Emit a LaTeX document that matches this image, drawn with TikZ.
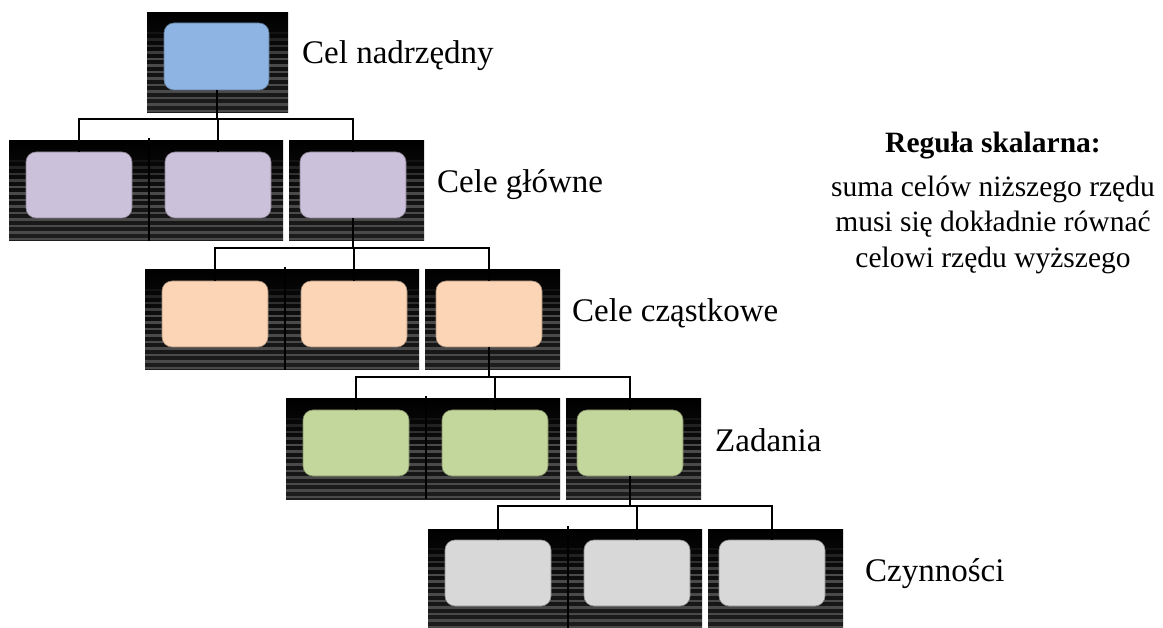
\documentclass[tikz,border=0pt]{standalone}
\usepackage{fontspec}
\setmainfont{Liberation Serif}
\definecolor{cblue}{RGB}{141,180,226}
\definecolor{clav}{RGB}{204,193,218}
\definecolor{cpeach}{RGB}{251,213,181}
\definecolor{cgreen}{RGB}{195,214,155}
\definecolor{cgray}{RGB}{216,216,216}
\definecolor{stripecol}{RGB}{74,74,74}
\definecolor{bgbottom}{RGB}{30,30,30}
\tikzset{
  bgbox/.style={anchor=north west, inner sep=0pt, outer sep=0pt,
    minimum height=100pt, minimum width=#1,
    top color=black, bottom color=bgbottom,
    path picture={
      \foreach \k in {0,...,12}{
        \pgfmathsetmacro\dd{20+6.5*\k}
        \pgfmathsetmacro\op{min(1,0.2+0.2*\k)}
        \draw[stripecol, line width=2.6pt, opacity=\op]
          ([yshift=-\dd pt]path picture bounding box.north west) --
          ([yshift=-\dd pt]path picture bounding box.north east);
      }
    }},
  inbox/.style={anchor=north west, inner sep=0pt, outer sep=0pt,
    minimum width=106pt, minimum height=66pt, rounded corners=10pt,
    fill=#1, draw=#1!65!black, line width=0.6pt},
  conn/.style={draw=black, line width=2pt},
  sepline/.style={draw=black, line width=1.5pt},
  lbl/.style={anchor=base west, inner sep=0pt, font=\fontsize{33}{40}\selectfont},
  rule/.style={anchor=base, inner sep=0pt, font=\fontsize{29.5}{35}\selectfont},
}
\begin{document}
\begin{tikzpicture}[x=1pt, y=-1pt]
\useasboundingbox[fill=white] (0,0) rectangle (1163,628);

% Row 1
\node[bgbox=141pt] (b1) at (147,13) {};
\node[inbox=cblue, minimum height=67pt, minimum width=105pt] (n1) at (164,23) {};

% Row 2
\node[bgbox=140pt] (b2a) at (9,141) {};
\node[bgbox=134pt] (b2b) at (149,141) {};
\node[bgbox=135pt] (b2c) at (289,141) {};
\draw[sepline] ([yshift=3pt]b2a.north east) -- (b2a.south east);
\node[inbox=clav] (n2a) at (26,152) {};
\node[inbox=clav] (n2b) at (165,152) {};
\node[inbox=clav] (n2c) at (300,152) {};

% Row 3
\node[bgbox=140pt] (b3a) at (145,270) {};
\node[bgbox=134pt] (b3b) at (285,270) {};
\node[bgbox=135pt] (b3c) at (425,270) {};
\draw[sepline] ([yshift=3pt]b3a.north east) -- (b3a.south east);
\node[inbox=cpeach] (n3a) at (162,281) {};
\node[inbox=cpeach] (n3b) at (301,281) {};
\node[inbox=cpeach] (n3c) at (436,281) {};

% Row 4
\node[bgbox=140pt] (b4a) at (286,399) {};
\node[bgbox=134pt] (b4b) at (426,399) {};
\node[bgbox=135pt] (b4c) at (566,399) {};
\draw[sepline] ([yshift=3pt]b4a.north east) -- (b4a.south east);
\node[inbox=cgreen] (n4a) at (303,410) {};
\node[inbox=cgreen] (n4b) at (442,410) {};
\node[inbox=cgreen] (n4c) at (577,410) {};

% Row 5
\node[bgbox=140pt] (b5a) at (428,529) {};
\node[bgbox=134pt] (b5b) at (568,529) {};
\node[bgbox=135pt] (b5c) at (708,529) {};
\draw[sepline] ([yshift=3pt]b5a.north east) -- (b5a.south east);
\node[inbox=cgray] (n5a) at (445,540) {};
\node[inbox=cgray] (n5b) at (584,540) {};
\node[inbox=cgray] (n5c) at (719,540) {};

% Connectors
\coordinate (h2) at (0,119);
\coordinate (h3) at (0,248);
\coordinate (h4) at (0,377);
\coordinate (h5) at (0,506);

\draw[conn] (n1.south) -- (n1.south |- h2);
\draw[conn] (n2a.north) -- (n2a.north |- h2) -- (n2c.north |- h2) -- (n2c.north);
\draw[conn] (n2b.north) -- (n2b.north |- h2);

\draw[conn] (n2c.south) -- (n2c.south |- h3);
\draw[conn] (n3a.north) -- (n3a.north |- h3) -- (n3c.north |- h3) -- (n3c.north);
\draw[conn] (n3b.north) -- (n3b.north |- h3);

\draw[conn] (n3c.south) -- (n3c.south |- h4);
\draw[conn] (n4a.north) -- (n4a.north |- h4) -- (n4c.north |- h4) -- (n4c.north);
\draw[conn] (n4b.north) -- (n4b.north |- h4);

\draw[conn] (n4c.south) -- (n4c.south |- h5);
\draw[conn] (n5a.north) -- (n5a.north |- h5) -- (n5c.north |- h5) -- (n5c.north);
\draw[conn] (n5b.north) -- (n5b.north |- h5);

% Labels
\node[lbl] (l1) at (302,64) {Cel nadrzędny};
\node[lbl] (l2) at (437,193) {Cele główne};
\node[lbl] (l3) at (572,322) {Cele cząstkowe};
\node[lbl] (l4) at (715,452) {Zadania};
\node[lbl] (l5) at (865,581) {Czynności};

% Rule text
\node[rule, font=\fontsize{29.5}{35}\selectfont\bfseries] (r0) at (993,153) {Reguła skalarna:};
\node[rule] (r1) at (993,197) {suma celów niższego rzędu};
\node[rule] (r2) at (993,232) {musi się dokładnie równać};
\node[rule] (r3) at (993,268) {celowi rzędu wyższego};
\end{tikzpicture}
\end{document}
